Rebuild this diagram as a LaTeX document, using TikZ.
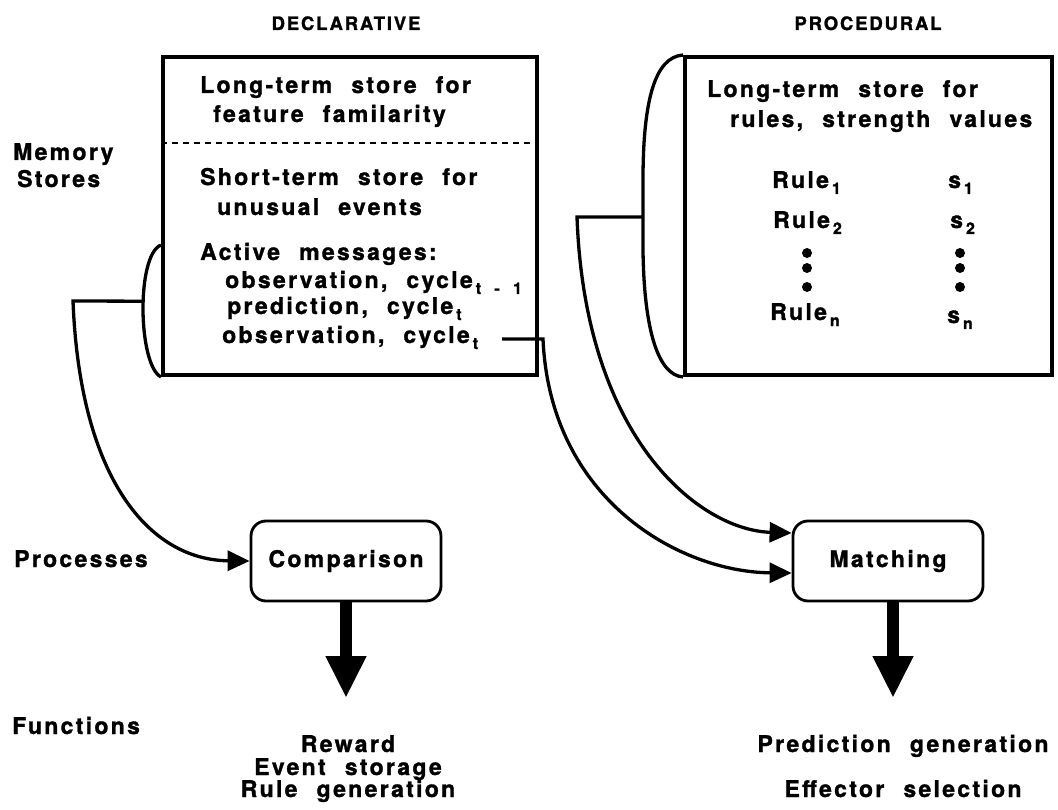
\documentclass[tikz,border=0pt]{standalone}
\usepackage{fontspec}
\setmainfont{TeX Gyre Heros}[LetterSpace=10,WordSpace=2.2,BoldFeatures={FakeBold=1.3}]
\usetikzlibrary{arrows.meta}

\newcommand{\lowidx}[1]{\hspace{3pt}\raisebox{-6pt}{\fontsize{16}{16}\selectfont #1}}

\tikzset{store/.style={draw,line width=4pt,minimum width=#1,minimum height=318pt,inner sep=0pt},
	procbox/.style={draw,line width=2.8pt,rounded corners=15pt,minimum width=190pt,minimum height=80pt},
	lbl/.style={anchor=base west,inner sep=0pt},
	mid/.style={anchor=base,inner sep=0pt},
	link/.style={line width=3.3pt,-{Triangle[length=22pt,width=20pt]}},
	flow/.style={line width=12pt,-{Triangle[length=42pt,width=38pt]}}}

\begin{document}
\begin{tikzpicture}[x=1pt,y=-1pt,font=\bfseries\fontsize{23}{26}\selectfont]
	\useasboundingbox (0,0) rectangle (1058,810);

	\node[mid,font=\bfseries\fontsize{18.5}{20}\selectfont](decl-head) at (346,30) {DECLARATIVE};
	\node[mid,font=\bfseries\fontsize{18.5}{20}\selectfont](proc-head) at (868,30) {PROCEDURAL};

	\node[lbl](memory) at (13,160) {Memory};
	\node[lbl](stores) at (17,187) {Stores};
	\node[lbl](processes) at (14,567) {Processes};
	\node[lbl](functions) at (12,734) {Functions};

	% memory stores
	\node[store=374pt](decl) at (350,216) {};
	\node[store=367pt](proc) at (868.5,216) {};
	\coordinate (dash-y) at (0,143);
	\draw[line width=1.4pt,dash pattern=on 6pt off 5pt] (decl.west|-dash-y) -- (decl.east|-dash-y);

	\node[lbl](lt-decl) at (200,93) {Long-term store for};
	\node[lbl](lt-decl2) at (213,122) {feature familarity};
	\node[lbl](st-decl) at (200,185) {Short-term store for};
	\node[lbl](st-decl2) at (217,215) {unusual events};
	\node[lbl](act) at (200,260) {Active messages:};
	\node[lbl](act-obs) at (225,288) {observation, cycle\lowidx{t - 1}};
	\node[lbl](act-pred) at (227,314) {prediction, cycle\lowidx{t}};
	\node[lbl](act-now) at (222,343) {observation, cycle\lowidx{t}};
	\coordinate (cyc-end) at (502,339);

	\node[lbl](lt-proc) at (707,97) {Long-term store for};
	\node[lbl](lt-proc2) at (730,127) {rules, strength values};
	\node[lbl](rule1) at (772,188) {Rule\lowidx{1}};
	\node[lbl](s1) at (948,188) {s\lowidx{1}};
	\node[lbl](rule2) at (773,228) {Rule\lowidx{2}};
	\node[lbl](s2) at (950,228) {s\lowidx{2}};
	\node[lbl](rulen) at (770,320) {Rule\lowidx{n}};
	\node[lbl](sn) at (947,323) {s\lowidx{n}};
	\foreach \dy in {253,268,287}{
		\fill (807,\dy) circle (5pt);
		\fill (960,\dy) circle (5pt);
	}

	% brackets
	\draw[line width=3.3pt] (decl.west|-0,245) .. controls (136,255) and (138,365) .. (decl.south west) coordinate[pos=.45](decl-brk);
	\draw[line width=3.3pt] (proc.north west) .. controls (655,57) and (643,100) .. (643,180) -- (643,250) coordinate[pos=.53](proc-brk)
		.. controls (644,330) and (658,375) .. (proc.south west);

	% processes
	\node[procbox](comp) at (346,561) {Comparison};
	\node[procbox](match) at (888,561) {Matching};

	\draw[link] (decl-brk) -- (73,301) .. controls (80,480) and (150,560) .. (comp.west);
	\draw[link] (proc-brk) -- (577,217) .. controls (585,440) and (700,530) .. ([yshift=28pt]match.west);
	\draw[link] (cyc-end) -- (543,339) .. controls (550,500) and (680,572) .. ([yshift=-12pt]match.west);

	% functions
	\coordinate (tip-y) at (0,698);
	\draw[flow] (comp.south) -- (comp.south|-tip-y);
	\draw[flow] ([xshift=5pt]match.south) -- ([xshift=5pt]match.south|-tip-y);

	\node[mid](reward) at (348,752) {Reward};
	\node[mid](event) at (348,775) {Event storage};
	\node[mid](rulegen) at (348,797) {Rule generation};
	\node[mid](predgen) at (903,752) {Prediction generation};
	\node[mid](effsel) at (903,797) {Effector selection};
\end{tikzpicture}
\end{document}
